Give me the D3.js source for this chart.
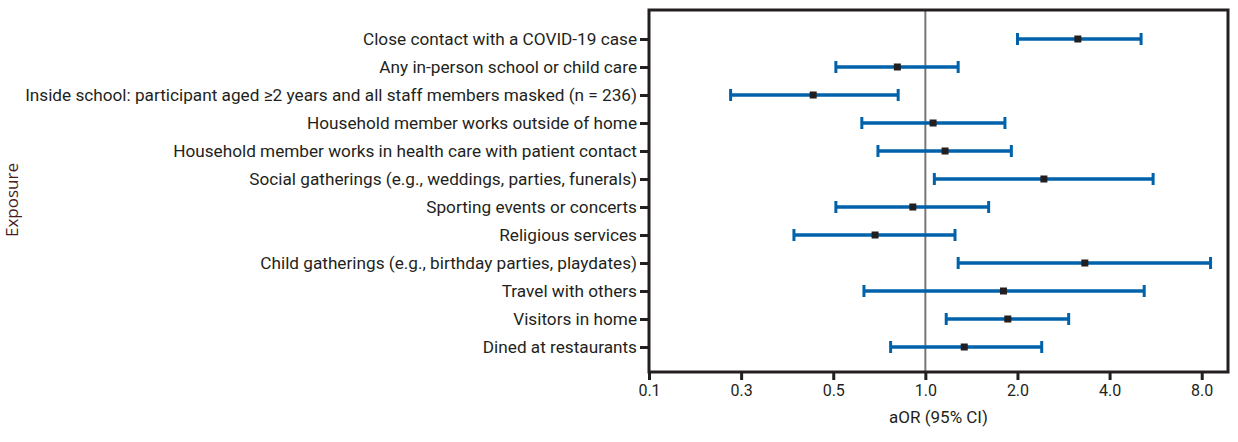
<!DOCTYPE html>
<html>
<head>
<meta charset="utf-8">
<script src="https://cdn.jsdelivr.net/npm/d3@7"></script>
<style>
  body { margin: 0; background: #fff; }
  svg { display: block; font-family: Roboto, "Open Sans", sans-serif; }
</style>
</head>
<body>
<svg width="1238" height="442"></svg>
<script>
const exposures = [
  "Close contact with a COVID-19 case",
  "Any in-person school or child care",
  "Inside school: participant aged \u22652 years and all staff members masked (n = 236)",
  "Household member works outside of home",
  "Household member works in health care with patient contact",
  "Social gatherings (e.g., weddings, parties, funerals)",
  "Sporting events or concerts",
  "Religious services",
  "Child gatherings (e.g., birthday parties, playdates)",
  "Travel with others",
  "Visitors in home",
  "Dined at restaurants"
];
const aor   = [3.15, 0.81, 0.43, 1.06, 1.16, 2.44, 0.91, 0.685, 3.32, 1.80, 1.86, 1.34];
const ciLow = [2.0, 0.51, 0.231, 0.62, 0.70, 1.07, 0.51, 0.372, 1.28, 0.63, 1.17, 0.77];
const ciHigh = [5.07, 1.28, 0.815, 1.82, 1.91, 5.55, 1.61, 1.25, 8.55, 5.19, 2.94, 2.40];
const tickValues = [0.125, 0.25, 0.5, 1, 2, 4, 8];
const tickLabels = ["0.1", "0.3", "0.5", "1.0", "2.0", "4.0", "8.0"];

const rows = exposures.map((name, i) => ({name, est: aor[i], lo: ciLow[i], hi: ciHigh[i]}));

const svg = d3.select("svg");
const margin = {top: 10, right: 10, bottom: 70, left: 649};
const width = +svg.attr("width");
const height = +svg.attr("height");
const plotW = width - margin.left - margin.right;
const plotH = height - margin.top - margin.bottom;

const g = svg.append("g").attr("transform", `translate(${margin.left},${margin.top})`);

const x = d3.scaleLog().base(2)
  .domain([0.125, 9.75])
  .range([0, plotW]);

const y = d3.scalePoint()
  .domain(exposures)
  .range([29, plotH - 25]);

const ink = "#231f20";
const blue = "#0062ab";

// reference line at 1
g.append("line")
  .attr("x1", x(1)).attr("x2", x(1))
  .attr("y1", 0).attr("y2", plotH)
  .attr("stroke", "#777").attr("stroke-width", 2);

// CI lines
const bars = g.append("g").selectAll("g")
  .data(rows)
  .enter().append("g")
  .attr("transform", d => `translate(0,${y(d.name)})`);

bars.append("line")
  .attr("x1", d => x(d.lo)).attr("x2", d => x(d.hi))
  .attr("stroke", blue).attr("stroke-width", 3.5);

bars.append("line")
  .attr("x1", d => x(d.lo)).attr("x2", d => x(d.lo))
  .attr("y1", -6).attr("y2", 6)
  .attr("stroke", blue).attr("stroke-width", 3);

bars.append("line")
  .attr("x1", d => x(d.hi)).attr("x2", d => x(d.hi))
  .attr("y1", -6).attr("y2", 6)
  .attr("stroke", blue).attr("stroke-width", 3);

bars.append("rect")
  .attr("x", d => x(d.est) - 3.5).attr("y", -3.5)
  .attr("width", 7).attr("height", 7)
  .attr("fill", ink);

// frame
g.append("rect")
  .attr("x", 0).attr("y", 0)
  .attr("width", plotW).attr("height", plotH)
  .attr("fill", "none").attr("stroke", ink).attr("stroke-width", 3);

// y axis
const yAxis = g.append("g")
  .call(d3.axisLeft(y).tickSize(9).tickPadding(3));
yAxis.select(".domain").remove();
yAxis.selectAll(".tick line").attr("stroke", ink).attr("stroke-width", 3);
yAxis.selectAll(".tick text")
  .attr("fill", ink).attr("font-size", 17.2).attr("font-family", "Roboto, sans-serif");

// x axis
const xAxis = g.append("g")
  .attr("transform", `translate(0,${plotH})`)
  .call(d3.axisBottom(x).tickValues(tickValues)
    .tickFormat((d, i) => tickLabels[i]).tickSize(8).tickPadding(5));
xAxis.select(".domain").remove();
xAxis.selectAll(".tick line").attr("stroke", ink).attr("stroke-width", 3);
xAxis.selectAll(".tick text")
  .attr("fill", ink).attr("font-size", 16).attr("font-family", "Roboto, sans-serif");

// axis titles
g.append("text")
  .attr("x", plotW / 2).attr("y", plotH + 51)
  .attr("text-anchor", "middle")
  .attr("fill", ink).attr("font-size", 17)
  .text("aOR (95% CI)");

svg.append("text")
  .attr("transform", `translate(18,200) rotate(-90)`)
  .attr("text-anchor", "middle")
  .attr("fill", "#4a1d1d").attr("font-size", 17)
  .attr("font-family", "'Open Sans', sans-serif")
  .text("Exposure");
</script>
</body>
</html>
